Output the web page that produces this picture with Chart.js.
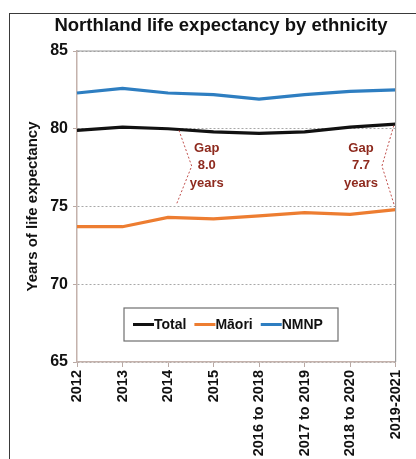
<!DOCTYPE html>
<html>
<head>
<meta charset="utf-8">
<script src="https://cdn.jsdelivr.net/npm/chart.js@4"></script>
<style>
    html, body { margin: 0; padding: 0; background: #fff; }
    #wrap { position: relative; width: 416px; height: 459px; overflow: hidden; }
    #frame { position: absolute; left: 9px; top: 13px; width: 420px; height: 460px;
             border-left: 1.5px solid #3a3a3a; border-top: 1.5px solid #3a3a3a; }
    canvas { position: absolute; left: 0; top: 0; }
</style>
</head>
<body>
<div id="wrap">
    <div id="frame"></div>
    <canvas id="lifeChart" width="416" height="459"></canvas>
</div>
<script>
// Values
const periods = ['2012', '2013', '2014', '2015', '2016 to 2018', '2017 to 2019', '2018 to 2020', '2019-2021'];
const totalValues = [79.9, 80.1, 80.0, 79.8, 79.7, 79.8, 80.1, 80.3];
const maoriValues = [73.7, 73.7, 74.3, 74.2, 74.4, 74.6, 74.5, 74.8];
const nmnpValues = [82.3, 82.6, 82.3, 82.2, 81.9, 82.2, 82.4, 82.5];
const yTicks = [65, 70, 75, 80, 85];
const gapLabels = [['Gap', '8.0', 'years'], ['Gap', '7.7', 'years']];
const chartTitle = 'Northland life expectancy by ethnicity';

const FONT = "'Liberation Sans', Arial, sans-serif";

// title, frame round the plot, dotted gap brackets and the legend box inside the plot
const extrasPlugin = {
    id: 'extras',
    afterDraw(chart) {
        const ctx = chart.ctx;
        const a = chart.chartArea;
        const x = chart.scales.x, y = chart.scales.y;
        const px = v => x.getPixelForValue(v);
        const py = v => y.getPixelForValue(v);

        ctx.save();
        // title (sits a bit right of centre in the original)
        ctx.fillStyle = '#111';
        ctx.font = 'bold 18.5px ' + FONT;
        ctx.textAlign = 'center';
        ctx.textBaseline = 'middle';
        ctx.fillText(chartTitle, 221, 26);

        // plot frame (top + right)
        ctx.strokeStyle = '#9a9a9a';
        ctx.lineWidth = 1.2;
        ctx.beginPath();
        ctx.moveTo(a.left, a.top);
        ctx.lineTo(a.right, a.top);
        ctx.lineTo(a.right, a.bottom);
        ctx.stroke();

        // gap brackets
        ctx.strokeStyle = '#c0504d';
        ctx.lineWidth = 1;
        ctx.setLineDash([2, 2]);
        ctx.beginPath();
        ctx.moveTo(px(2.24), py(79.9));
        ctx.lineTo(px(2.52), py(77.6));
        ctx.lineTo(px(2.18), py(75.1));
        ctx.moveTo(px(6.96), py(80.2));
        ctx.lineTo(px(6.7), py(77.6));
        ctx.lineTo(px(6.98), py(75.0));
        ctx.stroke();
        ctx.setLineDash([]);

        // gap texts
        ctx.fillStyle = '#8e2a1e';
        ctx.font = "bold 13px 'Liberation Sans Narrow', " + FONT;
        [[2.85, gapLabels[0]], [6.24, gapLabels[1]]].forEach(([idx, lines]) => {
            lines.forEach((t, i) => {
                ctx.fillText(t, px(idx), py(78.75 - i * 1.12));
            });
        });

        // legend box
        const lx = a.left + 47, ly = a.bottom - 54, lw = 214, lh = 33;
        ctx.fillStyle = '#fff';
        ctx.fillRect(lx, ly, lw, lh);
        ctx.strokeStyle = '#6f6f6f';
        ctx.lineWidth = 1.2;
        ctx.strokeRect(lx, ly, lw, lh);
        ctx.font = 'bold 14px ' + FONT;
        ctx.textAlign = 'left';
        let cx = lx + 9;
        chart.data.datasets.forEach(ds => {
            ctx.strokeStyle = ds.borderColor;
            ctx.lineWidth = 3;
            ctx.beginPath();
            ctx.moveTo(cx, ly + lh / 2);
            ctx.lineTo(cx + 21, ly + lh / 2);
            ctx.stroke();
            cx += 21;
            ctx.fillStyle = '#111';
            ctx.fillText(ds.label, cx, ly + lh / 2 + 1);
            cx += ctx.measureText(ds.label).width + 8;
        });
        ctx.restore();
    }
};

new Chart(document.getElementById('lifeChart'), {
    type: 'line',
    data: {
        labels: periods,
        datasets: [
            { label: 'Total', data: totalValues, borderColor: '#111111' },
            { label: 'Māori', data: maoriValues, borderColor: '#ed7d31' },
            { label: 'NMNP', data: nmnpValues, borderColor: '#2e7ec1' }
        ]
    },
    options: {
        responsive: false,
        animation: false,
        layout: { padding: { left: 20, right: 19, top: 51, bottom: 0 } },
        elements: {
            line: { borderWidth: 3.2, tension: 0 },
            point: { radius: 0 }
        },
        plugins: {
            legend: { display: false },
            tooltip: { enabled: false },
            title: { display: false }
        },
        scales: {
            x: {
                offset: false,
                grid: { drawOnChartArea: false, tickLength: 5, color: '#b9a9a4' },
                border: { color: '#c4b2ac', width: 1.5 },
                ticks: {
                    minRotation: 90, maxRotation: 90, autoSkip: false, padding: 3,
                    color: '#111', font: { family: FONT, size: 14.5, weight: 'bold' }
                },
                afterFit(scale) { scale.height = 97; }
            },
            y: {
                min: 65, max: 85,
                afterBuildTicks(scale) { scale.ticks = yTicks.map(v => ({ value: v })); },
                grid: { color: '#a8a8a8', tickLength: 4, tickColor: '#b9a9a4', tickBorderDash: [] },
                border: { color: '#c4b2ac', width: 1.5, dash: [2, 2] },
                ticks: { color: '#111', padding: 5, font: { family: FONT, size: 16, weight: 'bold' } },
                title: {
                    display: true, text: 'Years of life expectancy', color: '#111',
                    font: { family: FONT, size: 15, weight: 'bold' }, padding: { top: 4, bottom: 0 }
                },
                afterFit(scale) { scale.width = 57; }
            }
        }
    },
    plugins: [extrasPlugin]
});
</script>
</body>
</html>
